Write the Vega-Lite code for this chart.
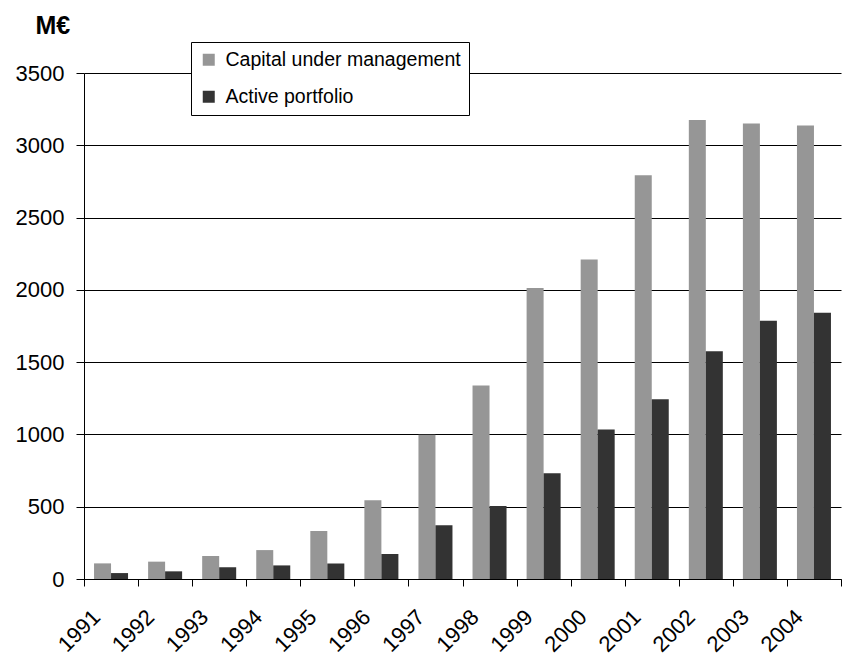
{
  "$schema": "https://vega.github.io/schema/vega-lite/v6.json",
  "width": 757,
  "height": 506,
  "autosize": {"type": "none"},
  "padding": {"left": 84, "top": 73, "right": 1, "bottom": 80},
  "background": "white",
  "config": {
    "font": "Liberation Sans",
    "view": {"stroke": null}
  },
  "data": {
    "values": [
      {"year": "1991", "series": "Capital under management", "value": 108},
      {"year": "1991", "series": "Active portfolio", "value": 41},
      {"year": "1992", "series": "Capital under management", "value": 120},
      {"year": "1992", "series": "Active portfolio", "value": 53},
      {"year": "1993", "series": "Capital under management", "value": 159},
      {"year": "1993", "series": "Active portfolio", "value": 81},
      {"year": "1994", "series": "Capital under management", "value": 200},
      {"year": "1994", "series": "Active portfolio", "value": 94},
      {"year": "1995", "series": "Capital under management", "value": 332},
      {"year": "1995", "series": "Active portfolio", "value": 108},
      {"year": "1996", "series": "Capital under management", "value": 544},
      {"year": "1996", "series": "Active portfolio", "value": 173},
      {"year": "1997", "series": "Capital under management", "value": 997},
      {"year": "1997", "series": "Active portfolio", "value": 371},
      {"year": "1998", "series": "Capital under management", "value": 1339},
      {"year": "1998", "series": "Active portfolio", "value": 505},
      {"year": "1999", "series": "Capital under management", "value": 2013},
      {"year": "1999", "series": "Active portfolio", "value": 731},
      {"year": "2000", "series": "Capital under management", "value": 2210},
      {"year": "2000", "series": "Active portfolio", "value": 1034},
      {"year": "2001", "series": "Capital under management", "value": 2793},
      {"year": "2001", "series": "Active portfolio", "value": 1243},
      {"year": "2002", "series": "Capital under management", "value": 3175},
      {"year": "2002", "series": "Active portfolio", "value": 1575},
      {"year": "2003", "series": "Capital under management", "value": 3150},
      {"year": "2003", "series": "Active portfolio", "value": 1787},
      {"year": "2004", "series": "Capital under management", "value": 3136},
      {"year": "2004", "series": "Active portfolio", "value": 1841}
    ]
  },
  "mark": {"type": "bar"},
  "encoding": {
    "x": {
      "field": "year",
      "type": "nominal",
      "scale": {"paddingInner": 0, "paddingOuter": 0},
      "axis": {
        "title": null,
        "labelAngle": -45,
        "labelFontSize": 22,
        "labelColor": "black",
        "labelPadding": 20,
        "labelOffset": -22,
        "tickBand": "extent",
        "tickSize": 7,
        "tickColor": "black",
        "domainColor": "black",
        "domainWidth": 1,
        "grid": false
      }
    },
    "xOffset": {
      "field": "series",
      "type": "nominal",
      "sort": ["Capital under management", "Active portfolio"],
      "scale": {"paddingInner": 0, "paddingOuter": 0.59}
    },
    "y": {
      "field": "value",
      "type": "quantitative",
      "scale": {"domain": [0, 3500], "nice": false},
      "axis": {
        "values": [0, 500, 1000, 1500, 2000, 2500, 3000, 3500],
        "format": "d",
        "title": "M€",
        "titleAngle": 0,
        "titleAlign": "left",
        "titleBaseline": "alphabetic",
        "titleX": -49,
        "titleY": -40,
        "titleFontSize": 25,
        "titleFontWeight": "bold",
        "titleColor": "black",
        "labelFontSize": 22,
        "labelColor": "black",
        "labelPadding": 12,
        "tickSize": 8,
        "tickColor": "black",
        "domainColor": "black",
        "grid": true,
        "gridColor": "black",
        "gridWidth": 1
      }
    },
    "color": {
      "field": "series",
      "type": "nominal",
      "sort": ["Capital under management", "Active portfolio"],
      "scale": {
        "domain": ["Capital under management", "Active portfolio"],
        "range": ["#969696", "#333333"]
      },
      "legend": {
        "title": null,
        "orient": "none",
        "legendX": 107,
        "legendY": -31,
        "fillColor": "white",
        "strokeColor": "black",
        "padding": 8,
        "symbolType": "square",
        "symbolSize": 144,
        "symbolStrokeWidth": 0,
        "labelFontSize": 19.5,
        "labelLimit": 0,
        "labelColor": "black",
        "labelOffset": 7,
        "rowPadding": 16
      }
    }
  }
}
